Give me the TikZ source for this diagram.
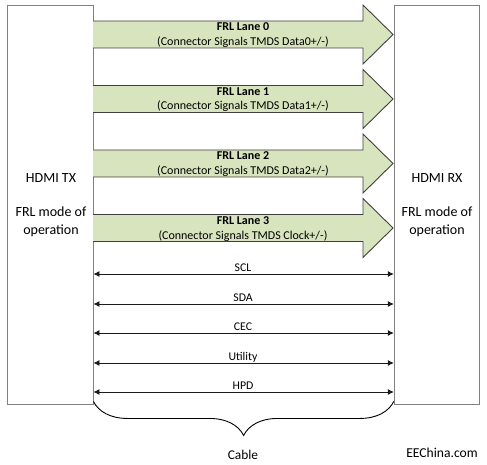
\documentclass[tikz,border=0pt]{standalone}
\usepackage{fontspec}
\setmainfont{Carlito}
\usetikzlibrary{arrows.meta,decorations.pathreplacing}
\definecolor{lanefill}{HTML}{D7E4BD}
\definecolor{laneline}{HTML}{404040}
\definecolor{boxline}{HTML}{808080}
\definecolor{sigline}{HTML}{1A1A1A}
\tikzset{
  devbox/.style={draw=boxline,line width=0.9pt,minimum width=85.5pt,minimum height=399pt,inner sep=0pt},
  lanearrow/.style={draw=laneline,fill=lanefill,line width=0.9pt,line join=miter},
  lanetext/.style={font=\fontsize{12}{14}\selectfont,anchor=base,inner sep=0pt},
  devtext/.style={font=\fontsize{14}{17}\selectfont,anchor=base,inner sep=0pt},
  sigtext/.style={font=\fontsize{11.8}{14}\selectfont,anchor=base,inner sep=0pt},
  sigarrow/.style={draw=sigline,line width=0.8pt,{Latex[length=6pt,width=6pt]}-{Latex[length=6pt,width=6pt]}},
}
\begin{document}
\begin{tikzpicture}[x=1pt,y=-1pt]
\useasboundingbox (0,0) rectangle (487,465);
% device boxes
\node[devbox] (tx) at (50.25,204.5) {};
\node[devbox] (rx) at (437,204.5) {};
\node[devtext] (txname) at (51,183) {HDMI TX};
\node[devtext] (txmode1) at (51,217) {FRL mode of};
\node[devtext] (txmode2) at (51,234) {operation};
\node[devtext] (rxname) at (437,183) {HDMI RX};
\node[devtext] (rxmode1) at (437,217) {FRL mode of};
\node[devtext] (rxmode2) at (437,234) {operation};
% lane arrows
\foreach \i/\c/\sig in {0/34.5/{Data0+/-},1/99/{Data1+/-},2/163.5/{Data2+/-},3/228/{Clock+/-}}{
  \draw[lanearrow] (93,\c-13.5) -- (363,\c-13.5) -- (363,\c-29.5) -- (393,\c)
     -- (363,\c+29.5) -- (363,\c+13.5) -- (93,\c+13.5);
  \node[lanetext,font=\fontsize{12}{14}\selectfont\bfseries] (lane\i) at (243,\c-3.5) {FRL Lane \i};
  \node[lanetext] (lanesig\i) at (243,\c+11) {(Connector Signals TMDS \sig)};
}
% sideband signals
\foreach \y/\n in {274/SCL,304/SDA,333/CEC,363/Utility,392/HPD}{
  \draw[sigarrow] (tx.east |- 0,\y) -- (rx.west |- 0,\y);
  \node[sigtext] (lbl\n) at (243,\y-2.5) {\n};
}
% cable brace
\coordinate (bl) at (tx.south east);
\coordinate (br) at (rx.south west);
\draw[line width=0.9pt,decorate,decoration={brace,mirror,amplitude=34pt,aspect=0.5}]
  ([yshift=3pt]bl) -- ([yshift=3pt]br);
\node[devtext,font=\fontsize{13.4}{16}\selectfont] (cable) at (243,459) {Cable};
\node[devtext,font=\fontsize{13.6}{16}\selectfont] (wm) at (442,457) {EEChina.com};
\end{tikzpicture}
\end{document}
